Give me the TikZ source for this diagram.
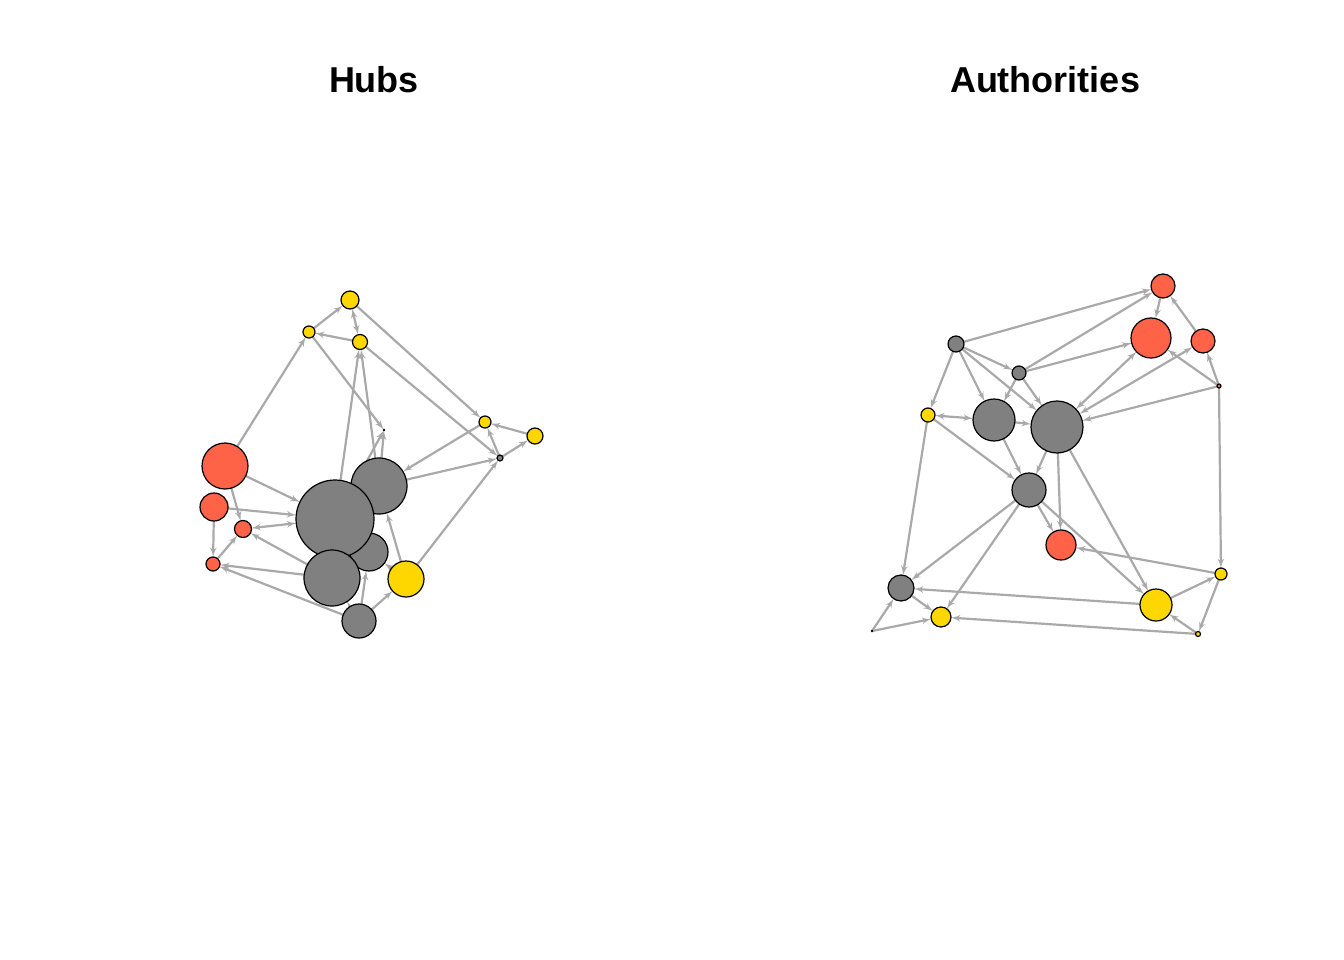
\documentclass[tikz,border=0pt]{standalone}
\usepackage{fontspec}
\setmainfont{Liberation Sans}
\usetikzlibrary{arrows}
\pgfdeclarelayer{bg}
\pgfsetlayers{bg,main}
\definecolor{tomato}{HTML}{FF6347}
\definecolor{gold}{HTML}{FFD700}
\definecolor{vgray}{HTML}{808080}
\definecolor{egray}{HTML}{A9A9A9}
\tikzset{vert/.style = {circle, draw=black, line width = 1.2, inner sep = 0, outer sep = 0}}
\tikzset{lnk/.style = {draw=egray, line width = 2.2, -latex'}}
\tikzset{lnkb/.style = {draw=egray, line width = 2.2, latex'-latex'}}
\tikzset{ttl/.style = {font=\bfseries\fontsize{36}{40}\selectfont}}

\begin{document}
\begin{tikzpicture}[x=1pt, y=-1pt]
          \useasboundingbox (0, 0) rectangle (1344, 960);
          \node [ttl] (hubs) at (374, 80) {Hubs};
          \node [ttl] (auth) at (1045, 80) {Authorities};
          % hubs
          \node (h1) at (350, 300) [vert, fill=gold, minimum size = 18] {};
          \node (h2) at (309, 332) [vert, fill=gold, minimum size = 12] {};
          \node (h3) at (360, 342) [vert, fill=gold, minimum size = 15] {};
          \node (h4) at (485, 422) [vert, fill=gold, minimum size = 12] {};
          \node (h5) at (535, 436) [vert, fill=gold, minimum size = 16] {};
          \node (h6) at (500, 458) [vert, fill=vgray, minimum size = 6] {};
          \node (h7) at (384, 430) [vert, fill=vgray, minimum size = 1] {};
          \node (h10) at (369, 552) [vert, fill=vgray, minimum size = 38] {};
          \node (h8) at (379, 486) [vert, fill=vgray, minimum size = 56] {};
          \node (h9) at (335, 519) [vert, fill=vgray, minimum size = 78] {};
          \node (h11) at (332, 578) [vert, fill=vgray, minimum size = 56] {};
          \node (h12) at (359, 621) [vert, fill=vgray, minimum size = 34] {};
          \node (h13) at (406, 579) [vert, fill=gold, minimum size = 36] {};
          \node (r1) at (225, 466) [vert, fill=tomato, minimum size = 46] {};
          \node (r2) at (214, 507) [vert, fill=tomato, minimum size = 28] {};
          \node (r3) at (243, 529) [vert, fill=tomato, minimum size = 17] {};
          \node (r4) at (213, 564) [vert, fill=tomato, minimum size = 14] {};
          % authorities
          \node (a1) at (1163, 286) [vert, fill=tomato, minimum size = 24] {};
          \node (a2) at (1151, 338) [vert, fill=tomato, minimum size = 40] {};
          \node (a3) at (1203, 341) [vert, fill=tomato, minimum size = 24] {};
          \node (a4) at (1219, 386) [vert, fill=tomato, minimum size = 4] {};
          \node (a5) at (956, 344) [vert, fill=vgray, minimum size = 16] {};
          \node (a6) at (1019, 373) [vert, fill=vgray, minimum size = 14] {};
          \node (a7) at (928, 415) [vert, fill=gold, minimum size = 14] {};
          \node (a8) at (994, 420) [vert, fill=vgray, minimum size = 42] {};
          \node (a9) at (1057, 427) [vert, fill=vgray, minimum size = 52] {};
          \node (a10) at (1029, 490) [vert, fill=vgray, minimum size = 34] {};
          \node (a11) at (1061, 545) [vert, fill=tomato, minimum size = 30] {};
          \node (a12) at (1221, 574) [vert, fill=gold, minimum size = 12] {};
          \node (a13) at (901, 588) [vert, fill=vgray, minimum size = 26] {};
          \node (a14) at (1156, 605) [vert, fill=gold, minimum size = 32] {};
          \node (a15) at (941, 617) [vert, fill=gold, minimum size = 20] {};
          \node (a16) at (1198, 634) [vert, fill=gold, minimum size = 5] {};
          \node (a17) at (872, 631) [vert, fill=vgray, minimum size = 1] {};
          \begin{pgfonlayer}{bg}
            \foreach \s/\t in {r1/h2, h2/h1, h3/h2, h1/h4, h3/h6, h2/h7, h8/h7, h9/h7,
                               h9/h3, h8/h3, h4/h8, h8/h6, h6/h4, h5/h4, h6/h5, h13/h6,
                               h13/h8, h12/h13, h12/h10, h12/h11, h13/h10, r1/h9, r2/h9,
                               h11/r3, h11/r4, h12/r4, r1/r3, r2/r4, r4/r3,
                               a5/a1, a6/a1, a6/a2, a1/a2, a3/a1, a4/a3, a4/a2, a4/a9,
                               a4/a12, a5/a6, a5/a8, a5/a9, a5/a7, a6/a8, a6/a9, a8/a9,
                               a7/a10, a7/a13, a8/a10, a9/a10, a9/a11, a9/a14, a10/a11,
                               a10/a14, a10/a13, a10/a15, a12/a11, a14/a12, a12/a16,
                               a16/a14, a14/a13, a16/a15, a13/a15, a17/a13, a17/a15}
              \draw [lnk] (\s) -- (\t);
            \foreach \s/\t in {h1/h3, r3/h9, a9/a2, a9/a3, a8/a7}
              \draw [lnkb] (\s) -- (\t);
          \end{pgfonlayer}
        \end{tikzpicture}
\end{document}
